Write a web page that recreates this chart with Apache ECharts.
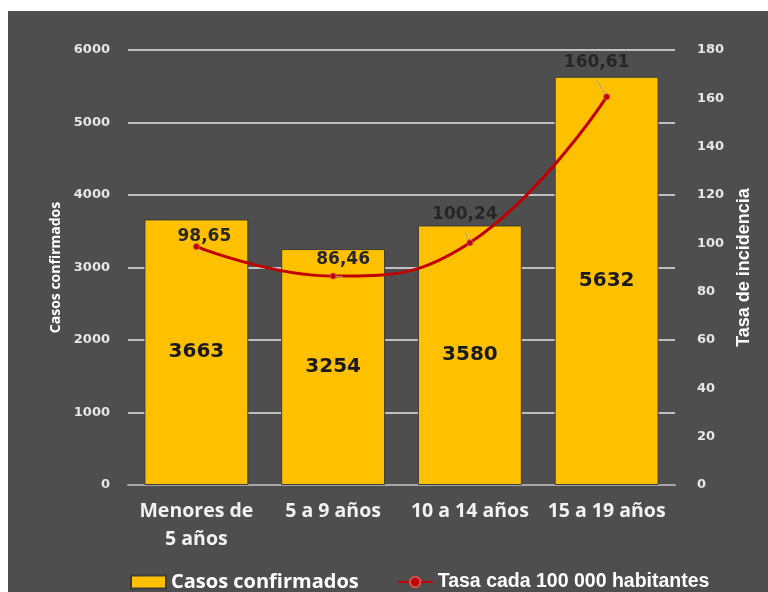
<!DOCTYPE html>
<html>
<head>
<meta charset="utf-8">
<script src="https://cdn.jsdelivr.net/npm/echarts@6/dist/echarts.min.js"></script>
<style>
  html, body { margin: 0; padding: 0; background: #ffffff; }
  #chart { position: absolute; left: 8px; top: 11px; width: 760px; height: 581px; background: #4e4e4e; }
</style>
</head>
<body>
<div id="chart"></div>
<script>
// Casos confirmados por grupo de edad + tasa de incidencia
const categories = ["Menores de\n5 años", "5 a 9 años", "10 a 14 años", "15 a 19 años"];
const casos = [3663, 3254, 3580, 5632];
const tasa = [98.65, 86.46, 100.24, 160.61];
const leftTicks = [0, 6000, 1000];
const rightTicks = [0, 180, 20];

const chart = echarts.init(document.getElementById("chart"));

// per-point label nudges so the rate labels sit where the original put them
const rateLabelOffsets = [[8, 6], [10, 0], [-5, -12], [-10, -18]];

chart.setOption({
  animation: false,
  grid: { left: 120, right: 93, top: 39, bottom: 107 },
  legend: {
    left: 122, top: 561, padding: 0, itemGap: 38, itemWidth: 35, itemHeight: 13,
    data: [
      { name: "Casos confirmados", icon: "rect",
        textStyle: { color: "#ffffff", fontFamily: "Open Sans", fontWeight: "bold", fontSize: 20 } },
      { name: "Tasa cada 100 000 habitantes",
        textStyle: { color: "#ffffff", fontFamily: "Liberation Sans", fontWeight: "bold", fontSize: 19.5 } }
    ]
  },
  xAxis: {
    type: "category", data: categories,
    axisLine: { lineStyle: { color: "#a6a6a6", width: 2 } },
    axisTick: { show: false },
    axisLabel: { interval: 0, color: "#f2f2f2", fontFamily: "Open Sans", fontWeight: "bold", fontSize: 19.5, lineHeight: 28, margin: 12 }
  },
  yAxis: [
    {
      type: "value", min: leftTicks[0], max: leftTicks[1], interval: leftTicks[2],
      name: "Casos confirmados", nameLocation: "middle", nameGap: 64, nameRotate: 90,
      nameTextStyle: { color: "#ffffff", fontFamily: "Open Sans", fontWeight: "bold", fontSize: 14 },
      axisLabel: { color: "#e6e6e6", fontFamily: "DejaVu Sans", fontWeight: "bold", fontSize: 13, margin: 18,
        formatter: (v) => String(v) },
      splitLine: { lineStyle: { color: "#bfbfbf", width: 2 } }
    },
    {
      type: "value", min: rightTicks[0], max: rightTicks[1], interval: rightTicks[2],
      name: "Tasa de incidencia", nameLocation: "middle", nameGap: 60, nameRotate: 90,
      nameTextStyle: { color: "#ffffff", fontFamily: "Liberation Sans", fontWeight: "bold", fontSize: 18 },
      axisLabel: { color: "#e6e6e6", fontFamily: "DejaVu Sans", fontWeight: "bold", fontSize: 13, margin: 22 },
      splitLine: { show: false }
    }
  ],
  series: [
    {
      name: "Casos confirmados", type: "bar", data: casos, barWidth: "76%",
      itemStyle: { color: "#ffc000", borderColor: "#3a3a3a", borderWidth: 1 },
      label: { show: true, position: "inside", color: "#1a1a1a", fontFamily: "DejaVu Sans", fontWeight: "bold", fontSize: 20 }
    },
    {
      name: "Tasa cada 100 000 habitantes", type: "line", yAxisIndex: 1, smooth: 0.45,
      data: tasa.map((v, i) => ({ value: v, label: { offset: rateLabelOffsets[i] } })),
      symbol: "circle", symbolSize: 6,
      lineStyle: { color: "#c00000", width: 3 },
      itemStyle: { color: "#c00000", borderColor: "#d65050", borderWidth: 1 },
      label: {
        show: true, position: "top", distance: 4, color: "#262626",
        fontFamily: "DejaVu Sans", fontWeight: "bold", fontSize: 17,
        formatter: (p) => String(p.value).replace(".", ",")
      },
      labelLine: { show: true, lineStyle: { color: "#a6a6a6", width: 1 } }
    }
  ]
});
</script>
</body>
</html>
